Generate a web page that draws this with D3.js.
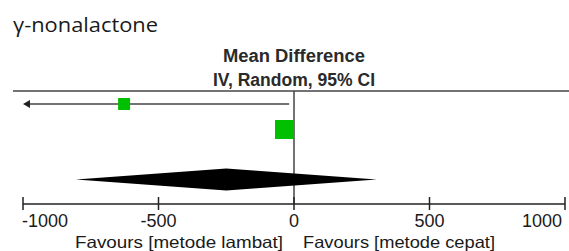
<!DOCTYPE html>
<html>
<head>
<meta charset="utf-8">
<script src="https://cdn.jsdelivr.net/npm/d3@7"></script>
<style>
  html, body { margin: 0; padding: 0; background: #fff; }
  svg { display: block; }
</style>
</head>
<body>
<svg id="chart" width="569" height="251"></svg>
<script>
// ---- data ----
const chartTitle = "γ-nonalactone";
const headerLines = ["Mean Difference", "IV, Random, 95% CI"];
const studyNames = ["Study 1", "Study 2"];
const studyMeans = [-627, -35];
const studyLower = [-1400, -60];
const studyUpper = [-18, -10];
const studyWeights = [28.5, 71.5];
const pooled = { mean: -250, lower: -805, upper: 305 };
const tickValues = [-1000, -500, 0, 500, 1000];
const favoursLabels = ["Favours [metode lambat]", "Favours [metode cepat]"];

// ---- layout ----
const svg = d3.select("#chart");
const x = d3.scaleLinear().domain([-1000, 1000]).range([23, 565]);
const y = d3.scaleLinear().domain([0, 1]).range([104, 129.5]);
const sizeScale = d3.scaleSqrt().domain([0, 100]).range([0, 22.5]);
const axisY = 204;
const topLineY = 91;
const lineColor = "#444";
const textColor = "#1a1a1a";

// title
svg.append("text")
  .attr("x", 13).attr("y", 32)
  .attr("font-family", "'Open Sans', 'Noto Sans', sans-serif")
  .attr("font-size", 20)
  .attr("fill", textColor)
  .attr("textLength", 145).attr("lengthAdjust", "spacingAndGlyphs")
  .text(chartTitle);

// header
const headerWidths = [142, 162];
headerLines.forEach((t, i) => {
  svg.append("text")
    .attr("x", x(0) - headerWidths[i] / 2).attr("y", 62 + i * 24)
    .attr("font-family", "'Liberation Sans', Arial, sans-serif")
    .attr("font-weight", "bold")
    .attr("font-size", 18)
    .attr("fill", "#2a2a2a")
    .attr("textLength", headerWidths[i]).attr("lengthAdjust", "spacingAndGlyphs")
    .text(t);
});

// top horizontal line
svg.append("line")
  .attr("x1", 13).attr("x2", 569)
  .attr("y1", topLineY).attr("y2", topLineY)
  .attr("stroke", lineColor).attr("stroke-width", 1.5);

// zero line
svg.append("line")
  .attr("x1", x(0)).attr("x2", x(0))
  .attr("y1", topLineY).attr("y2", axisY)
  .attr("stroke", lineColor).attr("stroke-width", 1.5);

// studies
const [dMin, dMax] = x.domain();
studyNames.forEach((name, i) => {
  const lo = Math.max(studyLower[i], dMin);
  const hi = Math.min(studyUpper[i], dMax);
  const cy = y(i);
  svg.append("line")
    .attr("x1", x(lo) + (studyLower[i] < dMin ? 3 : 0)).attr("x2", x(hi))
    .attr("y1", cy).attr("y2", cy)
    .attr("stroke", lineColor).attr("stroke-width", 1.5);
  if (studyLower[i] < dMin) {
    const ax = x(dMin);
    svg.append("path")
      .attr("d", `M${ax},${cy} L${ax + 7},${cy - 4} L${ax + 7},${cy + 4} Z`)
      .attr("fill", "#222");
  }
  const s = sizeScale(studyWeights[i]);
  svg.append("rect")
    .attr("x", x(studyMeans[i]) - s / 2).attr("y", cy - s / 2)
    .attr("width", s).attr("height", s)
    .attr("fill", "#00c000");
});

// pooled diamond
const py = y(3) - 1;
const dh = 11;
svg.append("path")
  .attr("d", `M${x(pooled.lower)},${py} L${x(pooled.mean)},${py - dh} L${x(pooled.upper)},${py} L${x(pooled.mean)},${py + dh} Z`)
  .attr("fill", "#000");

// axis
const axisG = svg.append("g").attr("transform", `translate(0,${axisY})`);
axisG.append("line")
  .attr("x1", x(dMin)).attr("x2", x(dMax))
  .attr("stroke", "#222").attr("stroke-width", 1.5);
axisG.selectAll("line.tick").data(tickValues).enter().append("line")
  .attr("class", "tick")
  .attr("x1", d => x(d)).attr("x2", d => x(d))
  .attr("y1", -7).attr("y2", 6)
  .attr("stroke", "#222").attr("stroke-width", 1.5);
axisG.selectAll("text.tl").data(tickValues).enter().append("text")
  .attr("class", "tl")
  .attr("x", d => x(d))
  .attr("y", 23)
  .attr("text-anchor", d => d === dMin ? "start" : d === dMax ? "end" : "middle")
  .attr("dx", d => d === dMin ? -1 : d === dMax ? -3 : 0)
  .attr("font-family", "'Liberation Sans', Arial, sans-serif")
  .attr("font-size", 18)
  .attr("fill", textColor)
  .text(d => d);

// favours labels
svg.append("text")
  .attr("x", 75).attr("y", 248)
  .attr("font-family", "'Liberation Sans', Arial, sans-serif")
  .attr("font-size", 16.5).attr("fill", textColor)
  .attr("textLength", 208).attr("lengthAdjust", "spacingAndGlyphs")
  .text(favoursLabels[0]);
svg.append("text")
  .attr("x", 303).attr("y", 248)
  .attr("font-family", "'Liberation Sans', Arial, sans-serif")
  .attr("font-size", 16.5).attr("fill", textColor)
  .attr("textLength", 192).attr("lengthAdjust", "spacingAndGlyphs")
  .text(favoursLabels[1]);
</script>
</body>
</html>
